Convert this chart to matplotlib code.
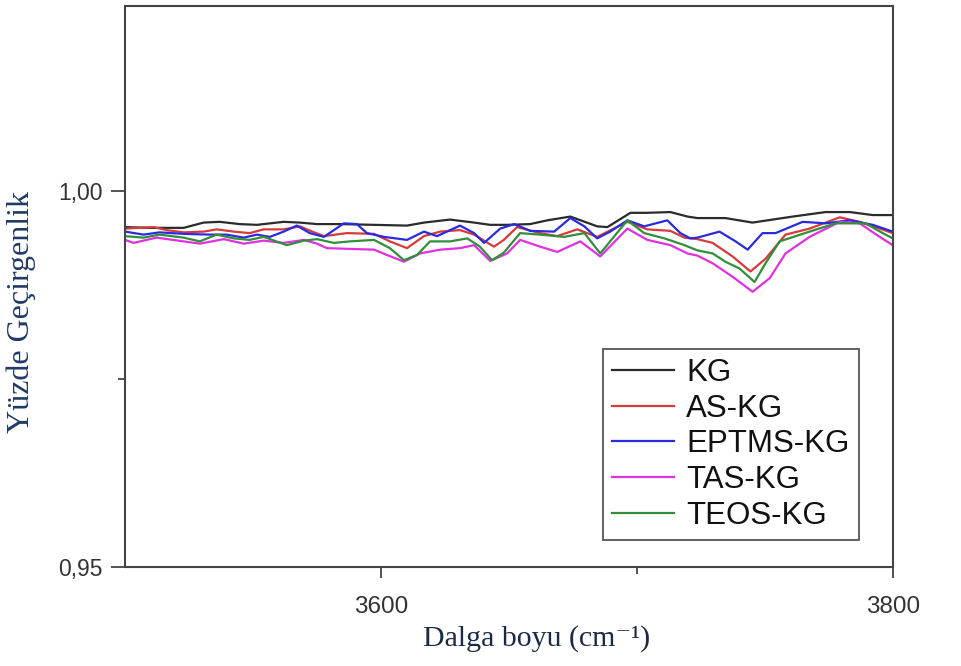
import matplotlib
matplotlib.use("Agg")
import matplotlib.pyplot as plt
from matplotlib.ticker import FixedLocator

# ---------------- data ----------------
kg_x = [3500, 3509.6, 3522.9, 3530.7, 3537.0, 3544.8, 3551.5, 3562.0, 3568.3, 3575.0,
        3584.0, 3597.3, 3610.2, 3616.8, 3627.0, 3636.4, 3642.7, 3649.3, 3658.3, 3665.0,
        3674.0, 3684.5, 3688.5, 3697.5, 3704.1, 3713.1, 3719.8, 3723.7, 3734.6, 3745.2,
        3760.9, 3773.8, 3783.2, 3792.2, 3800]
kg_y = [0.9952, 0.9951, 0.9951, 0.9958, 0.9959, 0.9956, 0.9955, 0.9959, 0.9958, 0.9956,
        0.9956, 0.9955, 0.9954, 0.9958, 0.9962, 0.9958, 0.9955, 0.9955, 0.9956, 0.9961,
        0.9966, 0.9953, 0.9952, 0.9971, 0.9971, 0.9972, 0.9966, 0.9964, 0.9964, 0.9958,
        0.9966, 0.9972, 0.9972, 0.9968, 0.9968]

as_x = [3500, 3511.2, 3516.2, 3522.9, 3530.7, 3535.8, 3542.5, 3548.7, 3554.2, 3562.0,
        3568.3, 3571.0, 3577.7, 3586.7, 3597.3, 3603.5, 3610.2, 3616.8, 3623.1, 3630.9,
        3636.4, 3644.2, 3648.0, 3653.2, 3662.2, 3668.9, 3676.7, 3684.5, 3696.3, 3704.1,
        3713.1, 3718.6, 3723.7, 3729.6, 3737.4, 3744.4, 3750.3, 3758.1, 3767.5, 3779.3,
        3787.1, 3794.9, 3800]
as_y = [0.9950, 0.9952, 0.9948, 0.9945, 0.9946, 0.9949, 0.9946, 0.9944, 0.9949, 0.9949,
        0.9953, 0.9949, 0.9940, 0.9944, 0.9943, 0.9933, 0.9924, 0.9940, 0.9946, 0.9948,
        0.9942, 0.9926, 0.9935, 0.9952, 0.9944, 0.9940, 0.9949, 0.9939, 0.9959, 0.9949,
        0.9947, 0.9938, 0.9936, 0.9931, 0.9913, 0.9893, 0.9910, 0.9942, 0.9950, 0.9965,
        0.9959, 0.9950, 0.9944]

ep_x = [3500, 3507.2, 3513.5, 3522.9, 3533.1, 3539.7, 3546.4, 3551.5, 3556.6, 3562.0,
        3567.1, 3572.2, 3577.7, 3585.5, 3590.6, 3594.5, 3601.2, 3610.2, 3616.8, 3621.9,
        3630.9, 3636.4, 3640.3, 3646.6, 3652.1, 3658.3, 3667.7, 3674.0, 3679.5, 3684.5,
        3689.6, 3696.3, 3702.9, 3711.9, 3717.0, 3720.9, 3723.7, 3732.3, 3738.6, 3743.3,
        3749.1, 3754.2, 3764.8, 3773.8, 3783.2, 3792.2, 3800]
ep_y = [0.9946, 0.9942, 0.9945, 0.9943, 0.9942, 0.9942, 0.9938, 0.9942, 0.9939, 0.9946,
        0.9954, 0.9944, 0.9939, 0.9957, 0.9956, 0.9944, 0.9939, 0.9935, 0.9946, 0.9940,
        0.9954, 0.9944, 0.9931, 0.9950, 0.9956, 0.9947, 0.9946, 0.9964, 0.9953, 0.9937,
        0.9946, 0.9961, 0.9953, 0.9961, 0.9944, 0.9937, 0.9938, 0.9946, 0.9933, 0.9922,
        0.9944, 0.9944, 0.9959, 0.9957, 0.9961, 0.9955, 0.9946]

tas_x = [3500, 3503.3, 3512.3, 3522.9, 3529.2, 3538.6, 3546.4, 3554.2, 3562.0, 3569.9,
         3575.0, 3578.9, 3597.3, 3602.3, 3609.0, 3615.3, 3623.1, 3630.9, 3636.4, 3642.7,
         3649.3, 3654.4, 3662.2, 3668.9, 3677.9, 3685.7, 3696.3, 3704.1, 3713.1, 3719.8,
         3723.7, 3729.6, 3737.4, 3745.2, 3751.9, 3758.1, 3767.5, 3779.3, 3787.1, 3794.9,
         3800]
tas_y = [0.9935, 0.9931, 0.9938, 0.9933, 0.9930, 0.9936, 0.9930, 0.9934, 0.9931, 0.9935,
         0.9930, 0.9924, 0.9922, 0.9915, 0.9906, 0.9917, 0.9922, 0.9924, 0.9928, 0.9907,
         0.9917, 0.9935, 0.9926, 0.9919, 0.9933, 0.9913, 0.9950, 0.9935, 0.9928, 0.9917,
         0.9914, 0.9904, 0.9886, 0.9866, 0.9884, 0.9917, 0.9939, 0.9959, 0.9957, 0.9939,
         0.9928]

teos_x = [3500, 3507.2, 3513.5, 3522.9, 3529.2, 3535.8, 3542.5, 3548.7, 3554.2, 3563.2,
          3569.9, 3575.0, 3581.6, 3587.9, 3597.3, 3603.5, 3609.0, 3614.1, 3619.2, 3627.0,
          3633.7, 3638.7, 3643.4, 3648.0, 3654.4, 3662.2, 3671.6, 3679.5, 3685.7, 3696.3,
          3702.9, 3710.8, 3718.6, 3723.7, 3729.6, 3734.6, 3740.1, 3746.0, 3750.3, 3755.8,
          3767.5, 3777.7, 3789.4, 3796.1, 3800]
teos_y = [0.9940, 0.9938, 0.9942, 0.9938, 0.9933, 0.9942, 0.9937, 0.9935, 0.9939, 0.9928,
          0.9934, 0.9936, 0.9931, 0.9933, 0.9935, 0.9924, 0.9908, 0.9915, 0.9933, 0.9933,
          0.9937, 0.9926, 0.9908, 0.9918, 0.9944, 0.9942, 0.9939, 0.9944, 0.9917, 0.9961,
          0.9944, 0.9937, 0.9928, 0.9921, 0.9917, 0.9906, 0.9897, 0.9879, 0.9904, 0.9933,
          0.9946, 0.9957, 0.9957, 0.9944, 0.9937]

series_names = ["KG", "AS-KG", "EPTMS-KG", "TAS-KG", "TEOS-KG"]
series_colors = ["#2b2b2b", "#d83a3a", "#2a2ae0", "#e030e0", "#2f8f3a"]

x_major = [3600, 3800]
x_major_labels = ["3600", "3800"]
x_minor = [3700]
y_major = [0.95, 1.00]
y_major_labels = ["0,95", "1,00"]
y_minor = [0.975]

# ---------------- figure ----------------
fig = plt.figure(figsize=(9.62, 6.66), dpi=100)
ax = fig.add_axes([0.130, 0.1486, 0.798, 0.8424])

xs = [kg_x, as_x, ep_x, tas_x, teos_x]
ys = [kg_y, as_y, ep_y, tas_y, teos_y]
for x, y, name, col in zip(xs, ys, series_names, series_colors):
    ax.plot(x, y, color=col, lw=1.6, label=name, solid_joinstyle="round")

ax.set_xlim(3500, 3800)
ax.set_ylim(0.95, 1.0246)

ax.xaxis.set_major_locator(FixedLocator(x_major))
ax.set_xticklabels(x_major_labels)
ax.xaxis.set_minor_locator(FixedLocator(x_minor))
ax.yaxis.set_major_locator(FixedLocator(y_major))
ax.set_yticklabels(y_major_labels)
ax.yaxis.set_minor_locator(FixedLocator(y_minor))

spine_col = "#444444"
for s in ax.spines.values():
    s.set_color(spine_col)
    s.set_linewidth(1.5)

ax.tick_params(axis="both", which="major", direction="out", width=1.3,
               color=spine_col, labelcolor="#333333")
ax.tick_params(axis="both", which="minor", direction="out", length=5, width=1.3,
               color=spine_col)
ax.tick_params(axis="x", which="major", length=8, pad=13, labelsize=17.5)
ax.tick_params(axis="y", which="major", length=10, pad=6, labelsize=16.5)
for lab in ax.get_xticklabels() + ax.get_yticklabels():
    lab.set_family(["Liberation Sans", "DejaVu Sans"])

ax.set_xlabel("Dalga boyu (cm\u207b\u00b9)", family=["Liberation Serif", "DejaVu Serif"],
              fontsize=21.5, color="#1c2a44", labelpad=5)
ax.xaxis.label.set_x(0.536)
ax.set_ylabel("Yüzde Geçirgenlik", family=["Liberation Serif", "DejaVu Serif"],
              fontsize=23, color="#1f3a66", labelpad=16)
ax.yaxis.label.set_y(0.455)

leg = ax.legend(loc="upper left", bbox_to_anchor=(0.622, 0.389), frameon=True,
                fancybox=False, edgecolor="#555555", framealpha=1,
                prop={"family": "Liberation Sans", "size": 22.5},
                handlelength=2.0, handletextpad=0.38, labelspacing=0.18,
                borderpad=0.3, borderaxespad=0)
leg.get_frame().set_linewidth(1.3)
for t in leg.get_texts():
    t.set_color("#111111")

fig.savefig("out.png", dpi=100)
